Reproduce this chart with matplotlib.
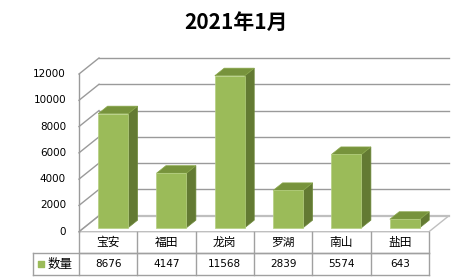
import numpy as np
import matplotlib.pyplot as plt
from matplotlib.patches import Polygon

plt.rcParams['font.family'] = ['Noto Sans CJK SC', 'DejaVu Sans']

title = "2021年1月"
districts = ["宝安", "福田", "龙岗", "罗湖", "南山", "盐田"]
counts = [8676, 4147, 11568, 2839, 5574, 643]
series_name = "数量"
yticks = [0, 2000, 4000, 6000, 8000, 10000, 12000]

W, H = 477, 280
fig = plt.figure(figsize=(W / 100, H / 100), dpi=100)
# front plot area in pixels
x0p, x1p, y0p, y1p = 79, 429, 231.7, 74
ax = fig.add_axes([x0p / W, 1 - y0p / H, (x1p - x0p) / W, (y0p - y1p) / H])
n = len(districts)
ymax = 12000
ax.set_xlim(0, n)
ax.set_ylim(0, ymax)
ax.axis('off')

ux = n / (x1p - x0p)          # category units per pixel
uy = ymax / (y0p - y1p)       # value units per pixel
dx, dy = 20 * ux, 16 * uy     # depth offset
grid_c = '#9A9A9A'

# floor
ax.add_patch(Polygon([(0, 0), (n, 0), (n + dx, dy), (dx, dy)], closed=True,
                     facecolor='white', edgecolor='#BFBFBF', lw=1, clip_on=False, zorder=1))
# grid on back wall and left wall
for v in yticks:
    c = '#BFBFBF' if v == 0 else grid_c
    lw = 1.6 if v == 0 else 1
    ax.plot([dx, n + dx], [v + dy, v + dy], color=c, lw=lw, clip_on=False, zorder=1)
    ax.plot([0, dx], [v, v + dy], color=grid_c, lw=1, clip_on=False, zorder=1)
    ax.text(-13 * ux, v, str(v), ha='right', va='center', fontsize=7.5,
            family='DejaVu Sans', color='black')
ax.plot([0, 0], [0, ymax], color=grid_c, lw=1, clip_on=False, zorder=1)

# bars
bw = 30 * ux
f0, fd = 0.25, 0.47
front_c, top_c, side_c = '#9BBB59', '#77933C', '#637A33'
for i, v in enumerate(counts):
    xl = i + 0.5 - bw / 2 + f0 * dx
    yb = f0 * dy
    xr = xl + bw
    ddx, ddy = fd * dx, fd * dy
    ax.add_patch(Polygon([(xr, yb), (xr + ddx, yb + ddy), (xr + ddx, yb + v + ddy), (xr, yb + v)],
                         closed=True, facecolor=side_c, edgecolor='#6E8A3A', lw=0.5, clip_on=False, zorder=3))
    ax.add_patch(Polygon([(xl, yb + v), (xr, yb + v), (xr + ddx, yb + v + ddy), (xl + ddx, yb + v + ddy)],
                         closed=True, facecolor=top_c, edgecolor='#8AA84C', lw=0.5, clip_on=False, zorder=3))
    ax.add_patch(Polygon([(xl, yb), (xr, yb), (xr, yb + v), (xl, yb + v)],
                         closed=True, facecolor=front_c, edgecolor='#B5CF80', lw=0.5, clip_on=False, zorder=4))

# data table
r1, r2 = -21.6 * uy, -43.3 * uy
xleg = (33 - x0p) * ux
tc = '#A0A0A0'
ax.plot([0, n], [r1, r1], color=tc, lw=1, clip_on=False)
ax.plot([xleg, n], [r1, r1], color=tc, lw=1, clip_on=False)
ax.plot([xleg, n], [r2, r2], color=tc, lw=1, clip_on=False)
ax.plot([xleg, xleg], [r1, r2], color=tc, lw=1, clip_on=False)
for i in range(n + 1):
    ax.plot([i, i], [0, r2], color=tc, lw=1, clip_on=False)
for i, (d, v) in enumerate(zip(districts, counts)):
    ax.text(i + 0.5, r1 / 2, d, ha='center', va='center', fontsize=8.5)
    ax.text(i + 0.5, (r1 + r2) / 2, str(v), ha='center', va='center', fontsize=7.5,
            family='DejaVu Sans', color='black')
ax.scatter([(41 - x0p) * ux], [(r1 + r2) / 2], marker='s', s=22, color=front_c, clip_on=False)
ax.text((60 - x0p) * ux, (r1 + r2) / 2, series_name, ha='center', va='center', fontsize=9)

fig.text(236 / W, 1 - 22 / H, title, ha='center', va='center', fontsize=15, fontweight='bold')

fig.savefig('out.png', dpi=100)
